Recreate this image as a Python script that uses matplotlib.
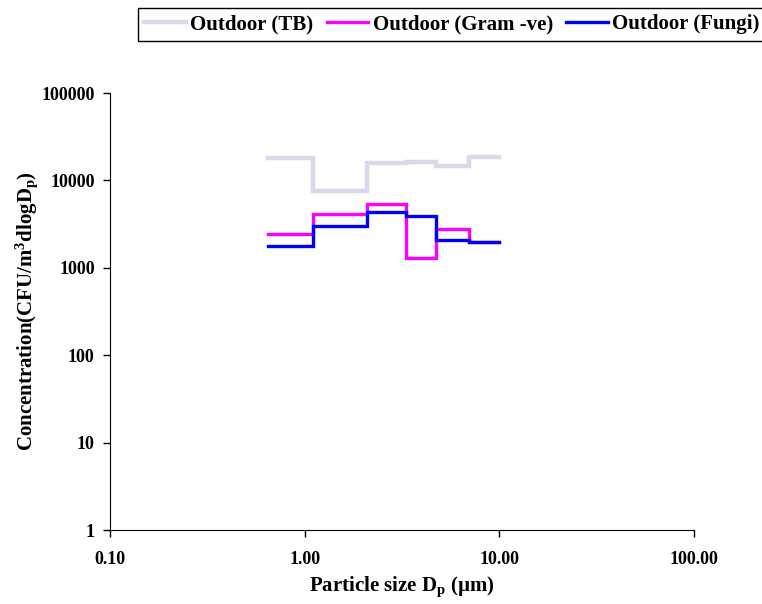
import numpy as np
import matplotlib.pyplot as plt
from matplotlib.ticker import FixedLocator, FixedFormatter

plt.rcParams['font.family'] = 'Liberation Serif'
plt.rcParams['font.weight'] = 'bold'
plt.rcParams['mathtext.fontset'] = 'custom'
plt.rcParams['mathtext.rm'] = 'Liberation Serif:bold'
plt.rcParams['mathtext.it'] = 'Liberation Serif:bold'
plt.rcParams['mathtext.bf'] = 'Liberation Serif:bold'

# Andersen stage cut sizes (um), last one is the upper edge
edges = [0.65, 1.1, 2.1, 3.3, 4.7, 7.0, 10.0]
tb = [17900, 7550, 15900, 16400, 14500, 18600]
gram = [2420, 4120, 5350, 1290, 2800, 1990]
fungi = [1770, 3000, 4380, 3950, 2070, 2000]

xticks = [0.1, 1, 10, 100]
xlabels = ["0.10", "1.00", "10.00", "100.00"]
yticks = [1, 10, 100, 1000, 10000, 100000]
ylabels = ["1", "10", "100", "1000", "10000", "100000"]

fig = plt.figure(figsize=(7.62, 6.04), dpi=100)
ax = fig.add_axes([0.1444, 0.1225, 0.7664, 0.7235])

series = [(tb, '#D9D9EB', 3.2, 'Outdoor (TB)'),
          (gram, '#FF00FF', 2.4, 'Outdoor (Gram -ve)'),
          (fungi, '#0000FF', 2.4, 'Outdoor (Fungi)')]
for vals, c, w, name in series:
    p = ax.stairs(vals, edges, baseline=None, color=c, lw=w, label=name)
    p.set_capstyle('projecting')

ax.set_xscale('log')
ax.set_yscale('log')
ax.set_xlim(0.1, 100)
ax.set_ylim(1, 100000)
ax.xaxis.set_major_locator(FixedLocator(xticks))
ax.xaxis.set_major_formatter(FixedFormatter(xlabels))
ax.yaxis.set_major_locator(FixedLocator(yticks))
ax.yaxis.set_major_formatter(FixedFormatter(ylabels))
ax.xaxis.set_minor_locator(FixedLocator([]))
ax.yaxis.set_minor_locator(FixedLocator([]))
ax.tick_params(axis='both', labelsize=13, length=5, width=1, direction='out', colors='black')
ax.tick_params(axis='x', pad=10)
ax.tick_params(axis='y', pad=6)
for s in ['top', 'right']:
    ax.spines[s].set_visible(False)

ax.set_xlabel('Particle size D$_\\mathregular{p}$ (\u00b5m)', fontsize=15, fontweight='bold', labelpad=5)
ax.set_ylabel('Concentration(CFU/m$^\\mathregular{3}$dlogD$_\\mathregular{p}$)', fontsize=15,
              fontweight='bold', labelpad=1)

leg = fig.legend(loc='upper left', bbox_to_anchor=(138 / 762, 1 - 8 / 604), ncol=3,
                 fancybox=False, edgecolor='black', framealpha=1, fontsize=15,
                 handlelength=2.0, handletextpad=0.2, columnspacing=0.65,
                 borderpad=0.3, borderaxespad=0)
leg.get_frame().set_linewidth(1)

fig.savefig('out.png', dpi=100)
